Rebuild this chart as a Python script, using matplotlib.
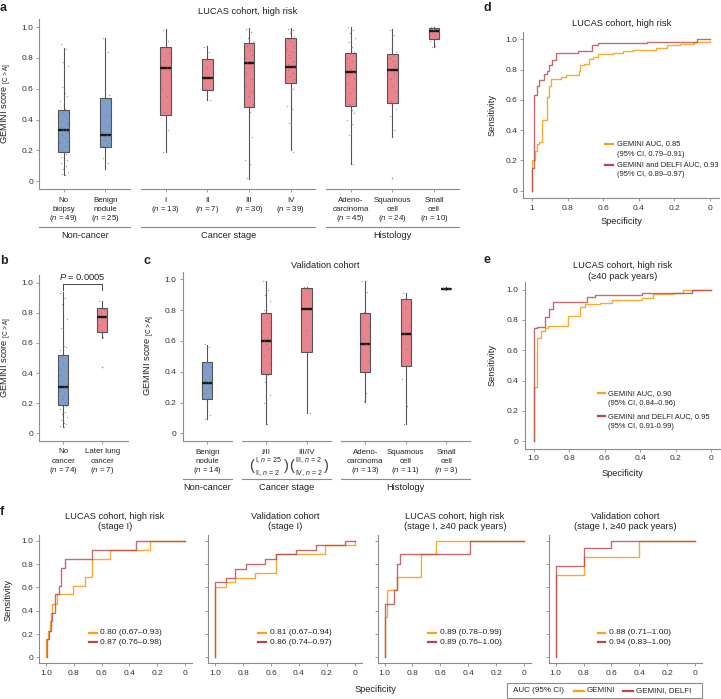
import numpy as np
import matplotlib
matplotlib.use("Agg")
import matplotlib.pyplot as plt
import matplotlib.transforms as mtransforms
from matplotlib.lines import Line2D
from matplotlib.patches import Rectangle

plt.rcParams['font.family'] = ['Liberation Sans', 'DejaVu Sans']
plt.rcParams['mathtext.fontset'] = 'custom'
plt.rcParams['mathtext.rm'] = 'Liberation Sans'
plt.rcParams['mathtext.it'] = 'Liberation Sans:italic'
plt.rcParams['mathtext.bf'] = 'Liberation Sans:bold'
plt.rcParams['text.color'] = '#222222'

EDGE = '#8c8c8c'
BOXEDGE = '#555555'
BLUE = '#7f9fca'
PINK = '#e9838d'
ORANGE = '#f8a21c'
RED = '#b7464f'
DOT = '#6f6f6f'

# ---------------- panel a : LUCAS cohort, high risk ----------------
a_groups = ["Non-cancer", "Cancer stage", "Histology"]
a_group_sizes = [2, 4, 3]
a_labels = [["No", "biopsy", "($\\it{n}$ = 49)"],
            ["Benign", "nodule", "($\\it{n}$ = 25)"],
            ["I", "($\\it{n}$ = 13)"],
            ["II", "($\\it{n}$ = 7)"],
            ["III", "($\\it{n}$ = 30)"],
            ["IV", "($\\it{n}$ = 39)"],
            ["Adeno-", "carcinoma", "($\\it{n}$ = 45)"],
            ["Squamous", "cell", "($\\it{n}$ = 24)"],
            ["Small", "cell", "($\\it{n}$ = 10)"]]
a_med = [0.33, 0.30, 0.735, 0.67, 0.765, 0.74, 0.71, 0.72, 0.975]
a_q1 = [0.19, 0.225, 0.43, 0.59, 0.48, 0.635, 0.49, 0.51, 0.92]
a_q3 = [0.465, 0.54, 0.87, 0.79, 0.895, 0.93, 0.83, 0.825, 0.995]
a_lo = [0.04, 0.08, 0.19, 0.53, 0.015, 0.20, 0.11, 0.29, 0.87]
a_hi = [0.865, 0.93, 0.985, 0.875, 0.995, 0.995, 1.0, 0.985, 1.0]
a_fliers = [[], [], [], [], [], [], [], [0.02], []]
a_points = [
    [0.89, 0.86, 0.77, 0.75, 0.61, 0.57, 0.55, 0.52, 0.47, 0.45, 0.43, 0.41, 0.39, 0.37, 0.35, 0.34, 0.33,
     0.32, 0.30, 0.28, 0.26, 0.25, 0.23, 0.21, 0.19, 0.18, 0.16, 0.14, 0.12, 0.10, 0.08, 0.06, 0.05, 0.04],
    [0.93, 0.84, 0.58, 0.56, 0.54, 0.42, 0.36, 0.32, 0.30, 0.29, 0.27, 0.25, 0.23, 0.22, 0.15, 0.12, 0.08],
    [0.98, 0.91, 0.87, 0.83, 0.78, 0.74, 0.72, 0.60, 0.55, 0.45, 0.43, 0.33, 0.19],
    [0.87, 0.84, 0.74, 0.67, 0.60, 0.59, 0.53],
    [0.99, 0.97, 0.93, 0.90, 0.88, 0.85, 0.82, 0.80, 0.78, 0.77, 0.76, 0.74, 0.70, 0.66, 0.62, 0.58,
     0.55, 0.50, 0.48, 0.45, 0.29, 0.14, 0.11, 0.02],
    [0.99, 0.98, 0.96, 0.94, 0.92, 0.90, 0.88, 0.86, 0.84, 0.82, 0.80, 0.78, 0.76, 0.74, 0.72, 0.70,
     0.68, 0.66, 0.64, 0.62, 0.60, 0.49, 0.47, 0.38, 0.21, 0.19],
    [1.0, 0.98, 0.96, 0.93, 0.90, 0.87, 0.84, 0.80, 0.78, 0.75, 0.73, 0.71, 0.69, 0.66, 0.63, 0.60,
     0.57, 0.54, 0.50, 0.46, 0.44, 0.40, 0.37, 0.30, 0.20, 0.11],
    [0.98, 0.95, 0.88, 0.84, 0.80, 0.78, 0.75, 0.72, 0.70, 0.66, 0.62, 0.58, 0.52, 0.47, 0.42, 0.33, 0.29],
    [1.0, 0.99, 0.98, 0.97, 0.96, 0.95, 0.93, 0.91, 0.88, 0.87]]
a_fill = [BLUE, BLUE] + [PINK] * 7

# ---------------- panel b : later lung cancer ----------------
b_labels = [["No", "cancer", "($\\it{n}$ = 74)"], ["Later lung", "cancer", "($\\it{n}$ = 7)"]]
b_med = [0.31, 0.775]
b_q1 = [0.19, 0.67]
b_q3 = [0.52, 0.83]
b_lo = [0.04, 0.63]
b_hi = [0.94, 0.88]
b_fliers = [[], [0.44]]
b_points = [
    [0.93, 0.90, 0.86, 0.76, 0.70, 0.58, 0.57, 0.55, 0.52, 0.50, 0.47, 0.45, 0.43, 0.41, 0.39, 0.37, 0.35,
     0.33, 0.32, 0.31, 0.30, 0.28, 0.27, 0.25, 0.23, 0.21, 0.19, 0.18, 0.16, 0.14, 0.13, 0.11, 0.09,
     0.07, 0.06, 0.05, 0.04],
    [0.88, 0.82, 0.80, 0.77, 0.72, 0.64]]
b_pvalue = "$\\it{P}$ = 0.0005"

# ---------------- panel c : validation cohort ----------------
c_groups = ["Non-cancer", "Cancer stage", "Histology"]
c_group_sizes = [1, 2, 3]
c_labels = [["Benign", "nodule", "($\\it{n}$ = 14)"],
            ["I/II", ("I, $\\it{n}$ = 25", "II, $\\it{n}$ = 2")],
            ["III/IV", ("III, $\\it{n}$ = 2", "IV, $\\it{n}$ = 2")],
            ["Adeno-", "carcinoma", "($\\it{n}$ = 13)"],
            ["Squamous", "cell", "($\\it{n}$ = 11)"],
            ["Small", "cell", "($\\it{n}$ = 3)"]]
c_med = [0.325, 0.60, 0.805, 0.58, 0.645, 0.94]
c_q1 = [0.22, 0.385, 0.53, 0.395, 0.435, 0.935]
c_q3 = [0.46, 0.78, 0.945, 0.78, 0.87, 0.945]
c_lo = [0.09, 0.06, 0.13, 0.205, 0.06, 0.93]
c_hi = [0.575, 0.99, 0.95, 0.99, 0.91, 0.95]
c_fliers = [[], [], [], [], [], []]
c_points = [
    [0.58, 0.56, 0.46, 0.43, 0.35, 0.33, 0.30, 0.26, 0.23, 0.22, 0.20, 0.12, 0.09],
    [0.99, 0.93, 0.90, 0.86, 0.80, 0.75, 0.72, 0.66, 0.62, 0.60, 0.58, 0.55, 0.50, 0.45, 0.40, 0.38,
     0.33, 0.25, 0.20, 0.06],
    [0.95, 0.94, 0.67, 0.13],
    [0.99, 0.92, 0.79, 0.70, 0.62, 0.58, 0.47, 0.40, 0.26, 0.21],
    [0.91, 0.87, 0.82, 0.70, 0.65, 0.55, 0.44, 0.35, 0.18, 0.06],
    [0.945, 0.94, 0.935]]
c_fill = [BLUE] + [PINK] * 5

# ---------------- ROC curves (specificity where sensitivity steps up, new sensitivity) ----------------
d_gem_spec = [1.0, 0.985, 0.975, 0.962, 0.947, 0.919, 0.906, 0.895, 0.835, 0.81, 0.737, 0.728, 0.709,
              0.68, 0.656, 0.628, 0.543, 0.487, 0.43, 0.30, 0.24, 0.167, 0.09, 0.0]
d_gem_sens = [0.20, 0.26, 0.31, 0.32, 0.47, 0.62, 0.69, 0.74, 0.75, 0.765, 0.79, 0.83, 0.84,
              0.87, 0.88, 0.90, 0.91, 0.92, 0.93, 0.94, 0.96, 0.97, 0.98, 0.99]
d_both_spec = [1.0, 0.989, 0.972, 0.96, 0.934, 0.919, 0.906, 0.89, 0.863, 0.74, 0.665, 0.628, 0.355, 0.073]
d_both_sens = [0.15, 0.63, 0.69, 0.73, 0.77, 0.79, 0.83, 0.865, 0.91, 0.92, 0.96, 0.975, 0.985, 1.0]
d_legend = ["GEMINI AUC, 0.85", "(95% CI, 0.79–0.91)", "GEMINI and DELFI AUC, 0.93", "(95% CI, 0.89–0.97)"]

e_gem_spec = [1.0, 0.98, 0.959, 0.936, 0.918, 0.805, 0.74, 0.71, 0.625, 0.56, 0.39, 0.33, 0.215, 0.16]
e_gem_sens = [0.36, 0.68, 0.73, 0.745, 0.76, 0.825, 0.885, 0.905, 0.91, 0.935, 0.945, 0.97, 0.975, 1.0]
e_both_spec = [1.0, 0.98, 0.936, 0.915, 0.89, 0.70, 0.655, 0.39, 0.11]
e_both_sens = [0.745, 0.755, 0.82, 0.87, 0.92, 0.95, 0.965, 0.98, 1.0]
e_legend = ["GEMINI AUC, 0.90", "(95% CI, 0.84–0.96)", "GEMINI and DELFI AUC, 0.95", "(95% CI, 0.91-0.99)"]

f_titles = [["LUCAS cohort, high risk", "(stage I)"],
            ["Validation cohort", "(stage I)"],
            ["LUCAS cohort, high risk", "(stage I, ≥40 pack years)"],
            ["Validation cohort", "(stage I, ≥40 pack years)"]]
f_gem_spec = [[1.0, 0.985, 0.976, 0.965, 0.959, 0.922, 0.81, 0.72, 0.673, 0.54, 0.254],
              [1.0, 0.925, 0.855, 0.713, 0.564, 0.214, 0.0],
              [1.0, 0.98, 0.91, 0.736, 0.628],
              [1.0, 0.8, 0.4]]
f_gem_sens = [[0.155, 0.23, 0.31, 0.385, 0.46, 0.54, 0.615, 0.69, 0.845, 0.92, 1.0],
              [0.605, 0.645, 0.685, 0.72, 0.885, 0.96, 1.0],
              [0.345, 0.575, 0.69, 0.885, 1.0],
              [0.71, 0.86, 1.0]]
f_both_spec = [[0.993, 0.98, 0.964, 0.956, 0.937, 0.908, 0.896, 0.867, 0.673, 0.351],
               [1.0, 0.925, 0.855, 0.783, 0.64, 0.564, 0.42, 0.28, 0.07],
               [1.0, 0.933, 0.91, 0.887, 0.388],
               [1.0, 0.8, 0.6]]
f_both_sens = [[0.155, 0.23, 0.31, 0.385, 0.54, 0.615, 0.77, 0.845, 0.92, 1.0],
               [0.645, 0.685, 0.76, 0.80, 0.84, 0.885, 0.92, 0.96, 1.0],
               [0.46, 0.575, 0.80, 0.885, 1.0],
               [0.786, 0.94, 1.0]]
f_auc_gem = ["0.80 (0.67–0.93)", "0.81 (0.67–0.94)", "0.89 (0.78–0.99)", "0.88 (0.71–1.00)"]
f_auc_both = ["0.87 (0.76–0.98)", "0.86 (0.74–0.97)", "0.89 (0.76–1.00)", "0.94 (0.83–1.00)"]

yticks = [0, 0.2, 0.4, 0.6, 0.8, 1.0]
ytick_labels = ["0", "0.2", "0.4", "0.6", "0.8", "1.0"]

# ---------------- layout helpers (pixel positions) ----------------
W, H = 721, 699
fig = plt.figure(figsize=(W / 100, H / 100), dpi=100)


def fx(px):
    return px / W


def fy(py):
    return 1 - py / H


def add_ax(l, t, r, b):
    return fig.add_axes([fx(l), fy(b), (r - l) / W, (b - t) / H])


def ftext(x, y, s, **kw):
    kw.setdefault('ha', 'center')
    kw.setdefault('va', 'center')
    return fig.text(fx(x), fy(y), s, **kw)


def fline(x0, x1, y, **kw):
    fig.add_artist(Line2D([fx(x0), fx(x1)], [fy(y), fy(y)], transform=fig.transFigure, **kw))


def group_positions(sizes, gap=0.45):
    out, start = [], 0.0
    for n in sizes:
        out.append([start + i for i in range(n)])
        start += n + gap
    return out


JIT = [-0.07, 0.05, -0.02, 0.09, -0.05, 0.02, 0.07, -0.09, 0.03, -0.04, 0.0, 0.06, -0.06, 0.08]


def draw_boxes(ax, pos, med, q1, q3, lo, hi, fliers, points, fills, width):
    stats = [dict(med=m, q1=a, q3=b, whislo=l, whishi=h, fliers=f)
             for m, a, b, l, h, f in zip(med, q1, q3, lo, hi, fliers)]
    bp = ax.bxp(stats, positions=pos, widths=width, patch_artist=True, showcaps=False,
                boxprops=dict(edgecolor=BOXEDGE, linewidth=0.8),
                whiskerprops=dict(color=BOXEDGE, linewidth=0.8),
                medianprops=dict(color='#1a1a1a', linewidth=1.7, solid_capstyle='butt'),
                flierprops=dict(marker='o', markersize=1.2, markerfacecolor=DOT,
                                markeredgecolor='none', alpha=0.7))
    for patch, c in zip(bp['boxes'], fills):
        patch.set_facecolor(c)
    for p, vals in zip(pos, points):
        off = np.array([JIT[i % len(JIT)] for i in range(len(vals))])
        ax.scatter(p + off, vals, s=0.9, color=DOT, alpha=0.65, linewidths=0, zorder=4)


def style_y(ax, labels=True):
    ax.set_ylim(-0.05, 1.05)
    ax.set_yticks(yticks)
    ax.set_yticklabels(ytick_labels if labels else [])
    for s in ['top', 'right']:
        ax.spines[s].set_visible(False)
    for s in ['left', 'bottom']:
        ax.spines[s].set_color(EDGE)
        ax.spines[s].set_linewidth(0.8)
    ax.tick_params(length=2.5, width=0.6, color=EDGE, labelsize=6, pad=2, labelcolor='#333333')


def category_labels(ax, pos, labels, ys, fs=5.7):
    tr = mtransforms.blended_transform_factory(ax.transData, fig.transFigure)
    for p, lines in zip(pos, labels):
        for i, s in enumerate(lines):
            if isinstance(s, tuple):
                yc = (ys[i] + ys[i + 1]) / 2
                ax.text(p + 0.07, fy(yc), "\n".join(s), transform=tr, ha='center', va='center',
                        multialignment='left', fontsize=5.0, linespacing=1.45)
                ax.text(p - 0.36, fy(yc), "(", transform=tr, ha='center', va='center',
                        fontsize=10.5, color='#444444')
                ax.text(p + 0.50, fy(yc), ")", transform=tr, ha='center', va='center',
                        fontsize=10.5, color='#444444')
            else:
                ax.text(p, fy(ys[i]), s, transform=tr, ha='center', va='center', fontsize=fs)


def group_lines(ax, gpos, names, div_y, name_y):
    tr_ax = mtransforms.blended_transform_factory(ax.transData, ax.transAxes)
    tr_fig = mtransforms.blended_transform_factory(ax.transData, fig.transFigure)
    for g, name in zip(gpos, names):
        x0, x1 = g[0] - 0.6, g[-1] + 0.6
        ax.plot([x0, x1], [0, 0], transform=tr_ax, color=EDGE, lw=0.8, clip_on=False)
        ax.plot([x0, x1], [fy(div_y)] * 2, transform=tr_fig, color=EDGE, lw=0.8, clip_on=False)
        ax.text((x0 + x1) / 2, fy(name_y), name, transform=tr_fig, ha='center', va='center',
                fontsize=6.7)


YLAB = "GEMINI score $_{\\mathrm{[C>A]}}$"

# ---------------- panel a ----------------
ax_a = add_ax(39.3, 19.3, 457.3, 189)
a_gpos = group_positions(a_group_sizes)
a_pos = [p for g in a_gpos for p in g]
draw_boxes(ax_a, a_pos, a_med, a_q1, a_q3, a_lo, a_hi, a_fliers, a_points, a_fill, 0.26)
style_y(ax_a)
ax_a.spines['bottom'].set_visible(False)
ax_a.set_xlim(-0.59, 9.46)
ax_a.set_xticks(a_pos)
ax_a.set_xticklabels([])
category_labels(ax_a, a_pos, a_labels, [200, 209.3, 218.3])
group_lines(ax_a, a_gpos, a_groups, 227, 235.5)
ftext(248, 12, "LUCAS cohort, high risk", fontsize=6.7)
ftext(7, 104, YLAB, rotation=90, fontsize=6.7)
ftext(0, 8, "a", ha='left', fontsize=9, fontweight='bold')

# ---------------- panel b ----------------
ax_b = add_ax(39.3, 275, 128.3, 441)
b_pos = [0, 1]
draw_boxes(ax_b, b_pos, b_med, b_q1, b_q3, b_lo, b_hi, b_fliers, b_points, [BLUE, PINK], 0.27)
style_y(ax_b)
ax_b.set_xlim(-0.61, 1.67)
ax_b.set_xticks(b_pos)
ax_b.set_xticklabels([])
category_labels(ax_b, b_pos, b_labels, [451.7, 461.3, 470.3])
ax_b.plot([0, 0, 1, 1], [0.95, 0.99, 0.99, 0.95], color='#444444', lw=0.7, clip_on=False)
ax_b.text(0.5, 1.04, b_pvalue, ha='center', va='center', fontsize=6.7)
ftext(7, 358, YLAB, rotation=90, fontsize=6.7)
ftext(0, 261, "b", ha='left', fontsize=9, fontweight='bold')

# ---------------- panel c ----------------
ax_c = add_ax(182.7, 271.6, 470, 441)
c_gpos = group_positions(c_group_sizes)
c_pos = [p for g in c_gpos for p in g]
draw_boxes(ax_c, c_pos, c_med, c_q1, c_q3, c_lo, c_hi, c_fliers, c_points, c_fill, 0.25)
style_y(ax_c)
ax_c.spines['bottom'].set_visible(False)
ax_c.set_xlim(-0.61, 6.49)
ax_c.set_xticks(c_pos)
ax_c.set_xticklabels([])
category_labels(ax_c, c_pos, c_labels, [452.3, 461.7, 470.7])
group_lines(ax_c, c_gpos, c_groups, 479.3, 487.5)
ftext(325, 265, "Validation cohort", fontsize=6.7)
ftext(150, 356, YLAB, rotation=90, fontsize=6.7)
ftext(144, 261, "c", ha='left', fontsize=9, fontweight='bold')


# ---------------- ROC panels ----------------
def roc_ax(l, t, r, b, gspec, gsens, bspec, bsens, xlabels, ylabels=True):
    ax = add_ax(l, t, r, b)
    ax.step(np.r_[gspec, 0.0], np.r_[0.0, gsens], where='pre', color=ORANGE, lw=1.0, alpha=0.9)
    ax.step(np.r_[bspec, 0.0], np.r_[0.0, bsens], where='pre', color=RED, lw=1.0, alpha=0.8)
    ax.set_xlim(1.05, -0.05)
    ax.set_xticks([1.0, 0.8, 0.6, 0.4, 0.2, 0.0])
    ax.set_xticklabels(xlabels)
    style_y(ax, ylabels)
    return ax


def two_entry_legend(hx0, hx1, tx, ys, texts, fs):
    fline(hx0, hx1, ys[0], color=ORANGE, lw=1.6)
    fline(hx0, hx1, ys[2], color=RED, lw=1.6)
    for y, s in zip(ys, texts):
        ftext(tx, y, s, ha='left', fontsize=fs)


xl_d = ["1", "0.8", "0.6", "0.4", "0.2", "0"]
xl_e = ["1.0", "0.8", "0.6", "0.4", "0.2", "0"]

ax_d = roc_ax(523.3, 31.7, 718.5, 198.3, d_gem_spec, d_gem_sens, d_both_spec, d_both_sens, xl_d)
ftext(621.7, 23, "LUCAS cohort, high risk", fontsize=6.7)
ftext(621, 222, "Specificity", fontsize=6.7)
ftext(491.7, 115, "Sensitivity", rotation=90, fontsize=6.7)
ftext(484, 8, "d", ha='left', fontsize=9, fontweight='bold')
two_entry_legend(605, 613.3, 616.7, [143.7, 154, 164.7, 175], d_legend, 5.4)

ax_e = roc_ax(524.8, 282.1, 720.3, 448.8, e_gem_spec, e_gem_sens, e_both_spec, e_both_sens, xl_e)
ftext(623, 266, "LUCAS cohort, high risk", fontsize=6.7)
ftext(623, 277, "(≥40 pack years)", fontsize=6.7)
ftext(622.5, 473, "Specificity", fontsize=6.7)
ftext(491.7, 365, "Sensitivity", rotation=90, fontsize=6.7)
ftext(484, 260, "e", ha='left', fontsize=9, fontweight='bold')
two_entry_legend(597.7, 605, 608.3, [393.3, 403.3, 416.3, 426.5], e_legend, 5.4)

f_boxes = [(39.3, 191.7), (208.3, 361.7), (377.6, 531.0), (548.7, 702.0)]
f_title_x = [115, 285, 455, 625]
f_leg = [(89.3, 96.7, 100), (258.3, 265.7, 270), (428.3, 435.7, 440), (597.7, 605, 609)]
for k in range(4):
    l, r = f_boxes[k]
    roc_ax(l, 535, r, 663.3, f_gem_spec[k], f_gem_sens[k], f_both_spec[k], f_both_sens[k],
           xl_e, ylabels=(k == 0))
    ftext(f_title_x[k], 516.7, f_titles[k][0], fontsize=6.7)
    ftext(f_title_x[k], 526.7, f_titles[k][1], fontsize=6.7)
    hx0, hx1, tx = f_leg[k]
    fline(hx0, hx1, 632.7, color=ORANGE, lw=1.6)
    fline(hx0, hx1, 642, color=RED, lw=1.6)
    ftext(tx, 632.7, f_auc_gem[k], ha='left', fontsize=6)
    ftext(tx, 642, f_auc_both[k], ha='left', fontsize=6)

ftext(0, 512, "f", ha='left', fontsize=9, fontweight='bold')
ftext(8, 600, "Sensitivity", rotation=90, fontsize=6.7)
ftext(375, 690, "Specificity", fontsize=6.7)

# bottom-right key
fig.add_artist(Rectangle((fx(506.7), fy(697.5)), (702 - 506.7) / W, 14.5 / H,
                         transform=fig.transFigure, fill=False, edgecolor=EDGE, lw=0.8))
ftext(512.7, 690.5, "AUC (95% CI)", ha='left', fontsize=5.8)
fline(574, 584, 690.5, color=ORANGE, lw=1.6)
ftext(587, 690.5, "GEMINI", ha='left', fontsize=5.8)
fline(623, 633, 690.5, color=RED, lw=1.6)
ftext(636, 690.5, "GEMINI, DELFI", ha='left', fontsize=5.8)

fig.savefig("out.png", dpi=100)
